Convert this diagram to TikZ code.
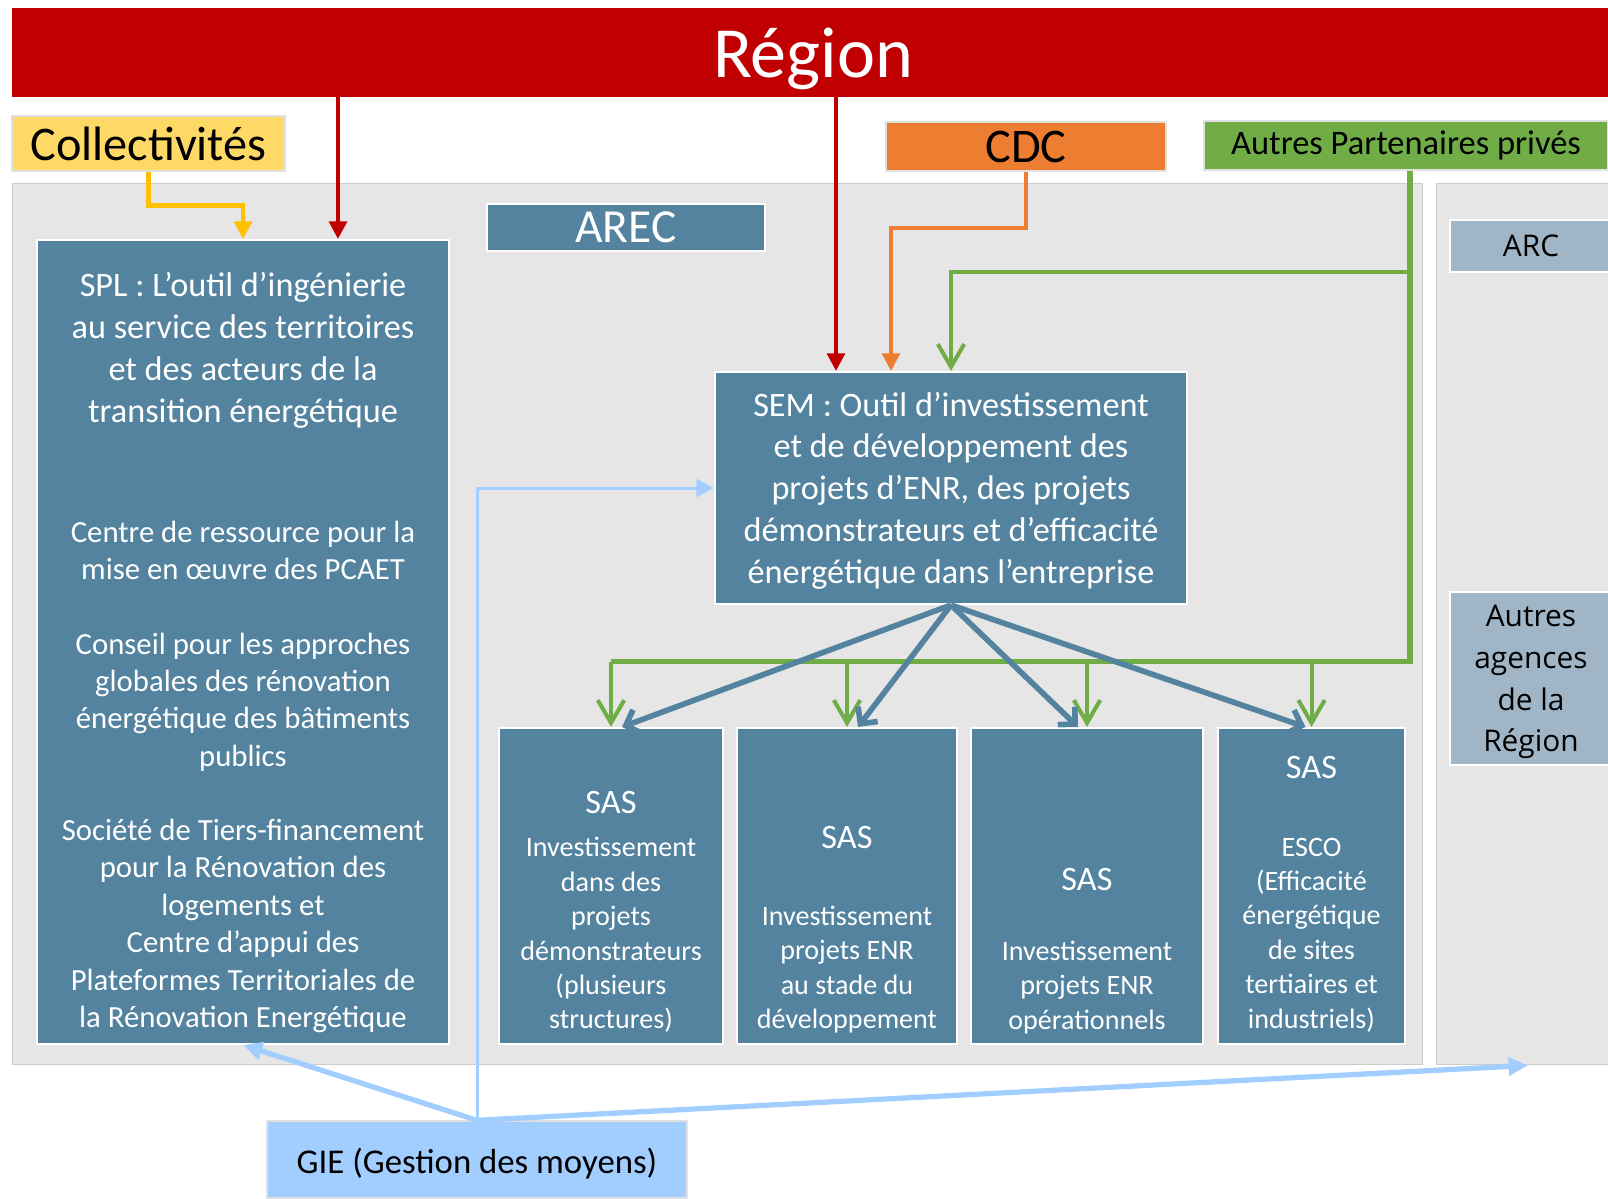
\documentclass[tikz,border=0pt]{standalone}
\usepackage{fontspec}
\setmainfont{Carlito}
\newfontfamily\agencefont{Open Sans}
\usetikzlibrary{arrows.meta,calc}
\definecolor{regionred}{RGB}{192,0,0}
\definecolor{collyellow}{RGB}{255,217,102}
\definecolor{lineyellow}{RGB}{255,192,0}
\definecolor{cdcorange}{RGB}{237,125,49}
\definecolor{apvgreen}{RGB}{112,173,71}
\definecolor{arecblue}{RGB}{83,131,159}
\definecolor{arcgrey}{RGB}{160,182,198}
\definecolor{panelgrey}{RGB}{231,230,230}
\definecolor{gieblue}{RGB}{162,206,255}
\begin{document}
\begin{tikzpicture}[x=0.02cm,y=-0.02cm,
	panel/.style={draw=black!20,line width=0.6pt,fill=panelgrey,inner sep=0pt},
	bluebox/.style={draw=white,line width=1.2pt,fill=arecblue,text=white,inner sep=0pt},
	greybox/.style={draw=white,line width=1.2pt,fill=arcgrey,text=black,inner sep=0pt,font=\agencefont\fontsize{17pt}{23.8pt}\selectfont,align=center},
	partner/.style={draw=black!12,line width=0.8pt,inner sep=0pt},
	bigtext/.style={text=white,align=center,font=\fontsize{19.5pt}{23.8pt}\selectfont},
	smalltext/.style={text=white,align=center,font=\fontsize{17.5pt}{21.3pt}\selectfont},
	sastitle/.style={text=white,font=\fontsize{19.5pt}{23pt}\selectfont},
	sastext/.style={text=white,align=center,font=\fontsize{16pt}{19.6pt}\selectfont},
	redarrow/.style={draw=regionred,line width=2.3pt,-{Triangle[length=10pt,width=10pt]}},
	orangearrow/.style={draw=cdcorange,line width=2.3pt,-{Triangle[length=10pt,width=10pt]}},
	yellowarrow/.style={draw=lineyellow,line width=2.8pt,-{Triangle[length=10pt,width=10pt]}},
	greenline/.style={draw=apvgreen,line width=3pt},
	greenarrow/.style={draw=apvgreen,line width=2.3pt,-{Straight Barb[length=13pt,width=15pt]}},
	semarrow/.style={draw=arecblue,line width=3.2pt,-{Straight Barb[length=7pt,width=14pt]}},
	giethin/.style={draw=gieblue,line width=1.7pt,-{Triangle[length=10pt,width=10pt]}},
	giethick/.style={draw=gieblue,line width=3pt,-{Triangle[length=11pt,width=10pt]}}]
	\useasboundingbox (0,0) rectangle (1608,1198);
	\node[panel,minimum width=28.22cm,minimum height=17.64cm] (arecpanel) at (717.5,624) {};
	\node[panel,minimum width=3.52cm,minimum height=17.64cm] (rpanel) at (1524,624) {};
	\node[fill=regionred,inner sep=0pt,minimum width=31.92cm,minimum height=1.78cm] (region) at (810,52.5) {};
	\node[text=white,font=\fontsize{41pt}{48pt}\selectfont] (regiontext) at (813,59) {Région};
	\node[partner,fill=collyellow,minimum width=5.46cm,minimum height=1.1cm,font=\fontsize{27.5pt}{32pt}\selectfont] (coll) at (148.5,143.5) {Collectivités};
	\node[partner,fill=cdcorange,minimum width=5.6cm,minimum height=0.98cm,font=\fontsize{27.5pt}{32pt}\selectfont] (cdc) at (1026,146.5) {CDC};
	\node[partner,fill=apvgreen,minimum width=8.08cm,minimum height=0.98cm,font=\fontsize{19.6pt}{24pt}\selectfont] (apv) at (1406,145.5) {Autres Partenaires privés};
	\node[bluebox,minimum width=5.56cm,minimum height=0.94cm,font=\fontsize{27pt}{32pt}\selectfont] (arec) at (626,227.5) {AREC};
	\node[greybox,minimum width=3.24cm,minimum height=1.04cm] (arc) at (1531,246) {ARC};
	\node[greybox,minimum width=3.24cm,minimum height=3.46cm] (agences) at (1531,678.5) {};
	\node[text=black,inner sep=0pt,font=\agencefont\fontsize{17pt}{23.8pt}\selectfont,align=center] (agencestext) at (1531,682) {Autres\\agences\\de la\\Région};

	\node[bluebox,minimum width=8.24cm,minimum height=16.08cm] (spl) at (243,642) {};
	\node[bigtext] (spltitle) at (243,350.5) {SPL : L’outil d’ingénierie\\au service des territoires\\et des acteurs de la\\transition énergétique};
	\node[smalltext] (splpcaet) at (243,550.5) {Centre de ressource pour la\\mise en œuvre des PCAET};
	\node[smalltext] (splconseil) at (243,702) {Conseil pour les approches\\globales des rénovation\\énergétique des bâtiments\\publics};
	\node[smalltext] (spltiers) at (243,926) {Société de Tiers-financement\\pour la Rénovation des\\logements et\\Centre d’appui des\\Plateformes Territoriales de\\la Rénovation Energétique};

	\node[bluebox,minimum width=9.44cm,minimum height=4.64cm] (sem) at (951,488) {};
	\node[bigtext] (semtext) at (951,490.5) {SEM : Outil d’investissement\\et de développement des\\projets d’ENR, des projets\\démonstrateurs et d’efficacité\\énergétique dans l’entreprise};

	\node[bluebox,minimum width=4.48cm,minimum height=6.32cm] (sas1) at (611,886) {};
	\node[bluebox,minimum width=4.4cm,minimum height=6.32cm] (sas2) at (847,886) {};
	\node[bluebox,minimum width=4.64cm,minimum height=6.32cm] (sas3) at (1087,886) {};
	\node[bluebox,minimum width=3.74cm,minimum height=6.32cm] (sas4) at (1311.5,886) {};
	\node[sastitle] (sas1title) at (611,802) {SAS};
	\node[sastext] (sas1text) at (611,935) {Investissement\\dans des\\projets\\démonstrateurs\\(plusieurs\\structures)};
	\node[sastitle] (sas2title) at (847,837) {SAS};
	\node[sastext] (sas2text) at (847,969.5) {Investissement\\projets ENR\\au stade du\\développement};
	\node[sastitle] (sas3title) at (1087,879) {SAS};
	\node[sastext] (sas3text) at (1087,987.5) {Investissement\\projets ENR\\opérationnels};
	\node[sastitle] (sas4title) at (1311.5,767) {SAS};
	\node[sastext] (sas4text) at (1311.5,935) {ESCO\\(Efficacité\\énergétique\\de sites\\tertiaires et\\industriels)};

	\node[partner,fill=gieblue,minimum width=8.4cm,minimum height=1.54cm] (gie) at (477,1159.5) {};
	\node[font=\fontsize{19.8pt}{24pt}\selectfont] (gietext) at (477,1164) {GIE (Gestion des moyens)};

	\coordinate (r1) at ($(spl.north)+(95,0)$);
	\coordinate (r2) at ($(sem.north)+(-115,0)$);
	\draw[redarrow] (r1 |- region.south) -- (r1);
	\draw[redarrow] (r2 |- region.south) -- (r2);
	\draw[yellowarrow] (coll.south) -- ++(0,34) -| (spl.north);
	\coordinate (o1) at ($(sem.north)+(-60,0)$);
	\draw[orangearrow] (cdc.south) -- ++(0,56) -| (o1);

	\coordinate (g0) at ($(apv.south)+(4,0)$);
	\coordinate (g1) at ($(g0)+(0,491)$);
	\coordinate (g3) at ($(g0)+(0,101)$);
	\draw[greenline] (g0) -- (g1) -- (g1 -| sas1.north);
	\draw[greenarrow] (g3) -| (sem.north);
	\foreach \sas in {sas1,sas2,sas3,sas4}
		\draw[greenarrow] (g1 -| \sas.north) -- (\sas.north);

	\draw[semarrow] (sem.south) -- ($(sas1.north)+(11,0)$);
	\draw[semarrow] (sem.south) -- ($(sas2.north)+(11,0)$);
	\draw[semarrow] (sem.south) -- ($(sas3.north)+(-9,0)$);
	\draw[semarrow] (sem.south) -- ($(sas4.north)+(-6,0)$);

	\draw[giethin] (gie.north) |- (sem.west);
	\draw[giethick] (gie.north) -- (spl.south);
	\draw[giethick] (gie.north) -- ($(rpanel.south)+(4,0)$);
\end{tikzpicture}
\end{document}
